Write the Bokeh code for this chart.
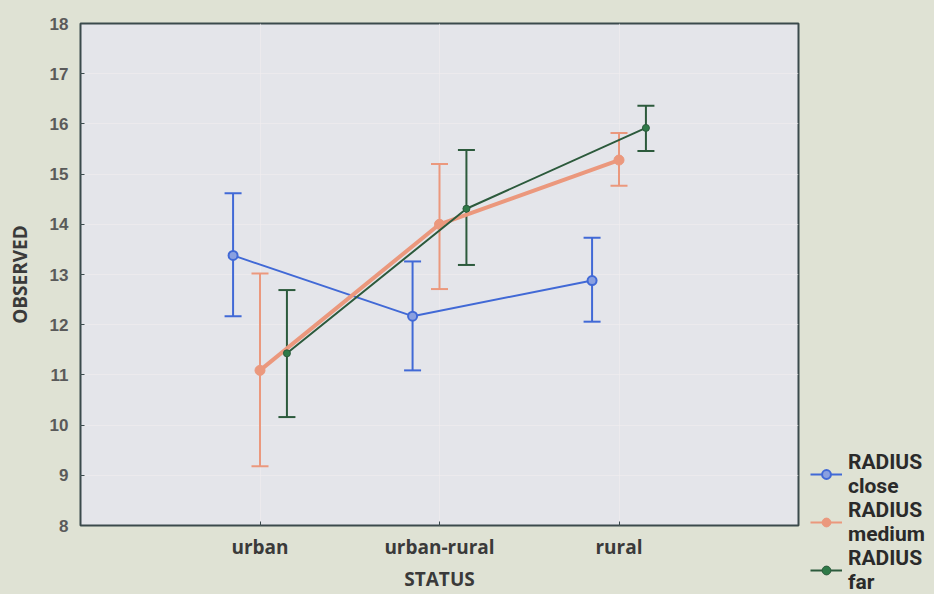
from bokeh.plotting import figure
from bokeh.layouts import row, column
from bokeh.models import (ColumnDataSource, Whisker, TeeHead, FixedTicker, Legend,
                          LegendItem, Range1d)
from bokeh.embed import file_html
from bokeh.resources import INLINE

categories = ["urban", "urban-rural", "rural"]
series = ["close", "medium", "far"]

close_mean = [13.38, 12.17, 12.88]
close_upper = [14.62, 13.26, 13.73]
close_lower = [12.17, 11.09, 12.06]

medium_mean = [11.09, 14.0, 15.28]
medium_upper = [13.02, 15.2, 15.82]
medium_lower = [9.18, 12.71, 14.77]

far_mean = [11.43, 14.31, 15.92]
far_upper = [12.69, 15.48, 16.36]
far_lower = [10.16, 13.19, 15.46]

y_ticks = [8, 9, 10, 11, 12, 13, 14, 15, 16, 17, 18]

BG = "#dfe2d4"
PLOT_BG = "#e4e5ea"
FRAME = "#3b4a4c"
FONT = "Open Sans"
H = 594

p = figure(width=800, height=H, output_backend="svg", toolbar_location=None,
           x_range=Range1d(0, 4), y_range=Range1d(8, 18),
           min_border_left=80, min_border_right=2, min_border_top=23,
           min_border_bottom=69)
p.background_fill_color = PLOT_BG
p.border_fill_color = BG
p.outline_line_color = FRAME
p.outline_line_width = 2

xs_base = [1, 2, 3]

# grid
p.xgrid.ticker = FixedTicker(ticks=xs_base)
p.ygrid.ticker = FixedTicker(ticks=y_ticks)
p.xgrid.grid_line_color = "#f2ecee"
p.ygrid.grid_line_color = "#f2ecee"
p.xgrid.grid_line_alpha = 0.6
p.ygrid.grid_line_alpha = 0.6

# axes
xa = p.xaxis[0]
xa.ticker = FixedTicker(ticks=xs_base)
xa.major_label_overrides = {i + 1: c for i, c in enumerate(categories)}
xa.axis_line_color = None
xa.major_tick_in = 4
xa.major_tick_out = 0
xa.major_tick_line_color = FRAME
xa.minor_tick_line_color = None
xa.major_label_text_font = FONT
xa.major_label_text_font_style = "bold"
xa.major_label_text_font_size = "19px"
xa.major_label_text_color = "#3a3a3a"
xa.major_label_standoff = 8
xa.axis_label = "STATUS"
xa.axis_label_text_font = FONT
xa.axis_label_text_font_style = "bold"
xa.axis_label_text_font_size = "19px"
xa.axis_label_text_color = "#3a3a3a"
xa.axis_label_standoff = 3

ya = p.yaxis[0]
ya.ticker = FixedTicker(ticks=y_ticks)
ya.axis_line_color = None
ya.major_tick_in = 4
ya.major_tick_out = 0
ya.major_tick_line_color = FRAME
ya.minor_tick_line_color = None
ya.major_label_text_font = "Liberation Sans"
ya.major_label_text_font_style = "bold"
ya.major_label_text_font_size = "17px"
ya.major_label_text_color = "#5a5a5a"
ya.major_label_standoff = 12
ya.axis_label = "OBSERVED"
ya.axis_label_text_font = FONT
ya.axis_label_text_font_style = "bold"
ya.axis_label_text_font_size = "19px"
ya.axis_label_text_color = "#3a3a3a"
ya.axis_label_standoff = 14

colors = {"close": "#4169d6", "medium": "#eb987d", "far": "#2c5a3c"}
offsets = {"close": -0.15, "medium": 0.0, "far": 0.15}
data = {
    "close": (close_mean, close_upper, close_lower),
    "medium": (medium_mean, medium_upper, medium_lower),
    "far": (far_mean, far_upper, far_lower),
}
line_w = {"close": 2, "medium": 4, "far": 2}


def add_marker(fig, src, s, c):
    if s == "close":
        return fig.scatter("x", "y", source=src, size=9, line_color=c, line_width=2,
                           fill_color="#8aa0e0")
    if s == "medium":
        return fig.scatter("x", "y", source=src, size=10, line_color=c, fill_color=c)
    return fig.scatter("x", "y", source=src, size=7, line_color=c, fill_color="#2f7a48")


# legend panel (separate canvas at the right, same background, no axes)
lg = figure(width=134, height=H, output_backend="svg", toolbar_location=None,
            x_range=Range1d(0, 1), y_range=Range1d(0, 1),
            x_axis_location=None, y_axis_location=None,
            min_border_left=0, min_border_right=0, min_border_top=0,
            min_border_bottom=0)
lg.grid.visible = False
lg.outline_line_color = None
lg.background_fill_color = BG
lg.border_fill_color = BG

items = []
for s in series:
    m, u, l = data[s]
    xs = [x + offsets[s] for x in xs_base]
    src = ColumnDataSource(dict(x=xs, y=m, upper=u, lower=l))
    c = colors[s]
    w = Whisker(base="x", upper="upper", lower="lower", source=src,
                line_color=c, line_width=2,
                upper_head=TeeHead(size=17, line_color=c, line_width=2),
                lower_head=TeeHead(size=17, line_color=c, line_width=2))
    p.add_layout(w)
    p.line("x", "y", source=src, line_color=c, line_width=line_w[s])
    add_marker(p, src, s, c)

    # legend-only renderers: one point outside the legend canvas's visible range
    dummy = ColumnDataSource(dict(x=[-5], y=[-5]))
    ln = lg.line("x", "y", source=dummy, line_color=c, line_width=2)
    mk = add_marker(lg, dummy, s, c)
    items.append(LegendItem(label="RADIUS\n" + s, renderers=[ln, mk]))

legend = Legend(items=items, location=(10, 0), orientation="vertical",
                background_fill_alpha=0, border_line_color=None,
                label_text_font="Roboto", label_text_font_style="bold",
                label_text_font_size="21px", label_text_color="#2a2a2a",
                label_text_line_height=1.0,
                glyph_width=32, glyph_height=22, spacing=0, padding=0,
                label_standoff=6, margin=0)
lg.add_layout(legend, "center")

layout = row(p, column(lg, spacing=0, styles={"background-color": BG}),
             spacing=0, styles={"background-color": BG})
open("out.html", "w").write(file_html(layout, INLINE))
